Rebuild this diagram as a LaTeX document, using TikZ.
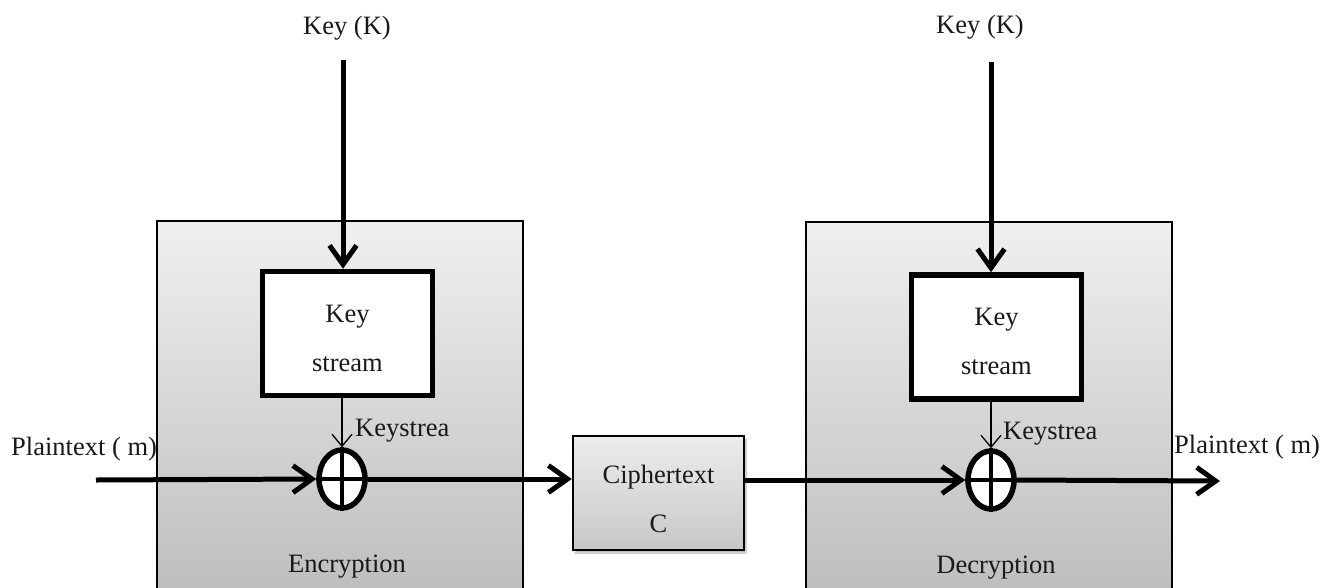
\documentclass[tikz,border=0pt]{standalone}
\usepackage{fontspec}
\setmainfont{Liberation Serif}
\usetikzlibrary{arrows.meta,shapes.geometric,shadows.blur}
\begin{document}
\begin{tikzpicture}[x=1pt,y=-1pt,
  every node/.style={font=\fontsize{26.5}{49}\selectfont, inner sep=0pt, text=black!90},
  bigbox/.style={draw=black, line width=2pt, top color=black!6, bottom color=black!26, minimum width=#1, minimum height=380},
  ksbox/.style={draw=black, line width=5.5pt, fill=white, minimum width=170, minimum height=124, align=center},
  ctbox/.style={draw=black, line width=2.5pt, top color=black!7, bottom color=black!22, minimum width=171, minimum height=114, align=center, blur shadow={shadow blur steps=6, shadow xshift=2pt, shadow yshift=-3pt, shadow opacity=30}},
  xorsym/.style={ellipse, draw=black, line width=5.5pt, fill=white, minimum width=46, minimum height=58},
  mainarrow/.style={line width=5pt, -{Straight Barb[length=19pt,width=27pt]}},
  thinarrow/.style={line width=1.3pt, -{Straight Barb[length=12pt,width=20pt]}},
  lbl/.style={anchor=base}
]
\useasboundingbox (0,0) rectangle (1326,587);
% big boxes
\node[bigbox=366] (enc) at (340,411) {};
\node[bigbox=366] (dec) at (989,412) {};
\node[lbl] (enclbl) at (347,572) {Encryption};
\node[lbl] (declbl) at (996,573) {Decryption};
% key stream boxes
\node[ksbox] (ks1) at (347.5,333.5) {\rule{0pt}{27pt}Key\\stream};
\node[ksbox] (ks2) at (996.5,337) {\rule{0pt}{27pt}Key\\stream};
% xor
\node[xorsym] (x1) at (342,479) {};
\node[xorsym] (x2) at (991,480) {};
\foreach \x in {x1,x2}{
  \draw[line width=4pt] (\x.north) -- (\x.south);
  \draw[line width=4pt] (\x.west) -- (\x.east);
}
% ciphertext
\node[ctbox] (ct) at (658.5,493) {\rule{0pt}{31pt}Ciphertext\\C};
% key labels
\node[lbl] (k1) at (347,34) {Key (K)};
\node[lbl] (k2) at (980,33) {Key (K)};
\coordinate (k1s) at (343,60);
\coordinate (k2s) at (991,62);
\draw[mainarrow] (k1s) -- (k1s |- ks1.north);
\draw[mainarrow] (k2s) -- (k2s |- ks2.north);
% keystream arrows
\draw[thinarrow] (x1 |- ks1.south) -- (x1.north);
\draw[thinarrow] (x2 |- ks2.south) -- (x2.north);
\node[anchor=base west] (ksl1) at (355,436) {Keystrea};
\node[anchor=base west] (ksl2) at (1003,439) {Keystrea};
% plaintext
\node[anchor=base west] (pt1) at (11,455) {Plaintext ( m)};
\node[anchor=base west] (pt2) at (1174,453) {Plaintext ( m)};
\coordinate (pin) at (96,480);
\coordinate (pout) at (1220,481);
% main flow
\draw[mainarrow] (pin) -- (x1.west);
\draw[mainarrow] (x1.east) -- (ct.west |- x1.east);
\draw[mainarrow] (ct.east |- x2.west) -- (x2.west);
\draw[mainarrow] (x2.east) -- (pout);
\end{tikzpicture}
\end{document}
